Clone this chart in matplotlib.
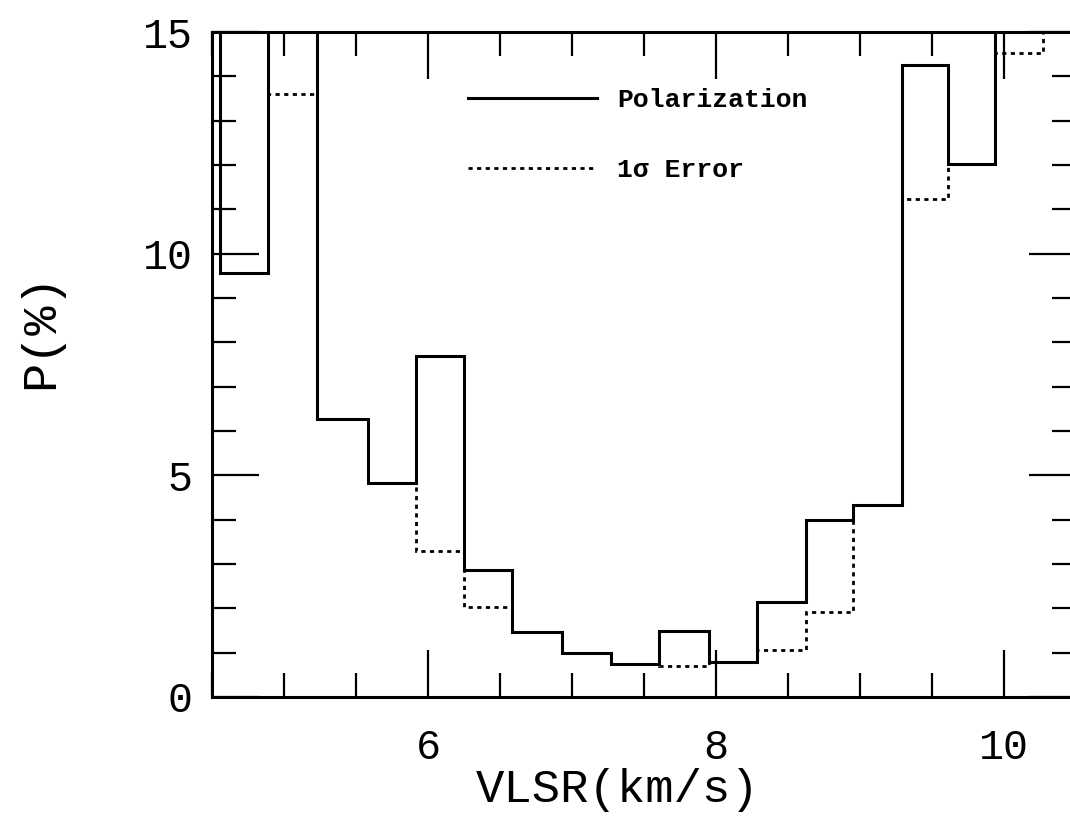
import matplotlib

matplotlib.use("Agg")
import matplotlib.pyplot as plt  # noqa: E402
from matplotlib.ticker import MultipleLocator  # noqa: E402

# velocity channel edges (km/s) and per-channel values (%)
v_edges = [4.22, 4.556, 4.889, 5.229, 5.583, 5.917, 6.250, 6.583, 6.931, 7.271,
           7.604, 7.951, 8.285, 8.625, 8.951, 9.292, 9.611, 9.938, 10.271, 10.61]
pol = [17.0, 9.56, 17.0, 6.27, 4.83, 7.69, 2.86, 1.47, 0.99, 0.74,
       1.49, 0.79, 2.14, 3.99, 4.33, 14.26, 12.02, 17.0, 17.0]
err = [16.0, 9.56, 13.6, 6.27, 4.83, 3.29, 2.03, 1.47, 0.99, 0.74,
       0.69, 0.79, 1.05, 1.92, 4.33, 11.23, 12.02, 14.53, 17.0]

FONT = "Liberation Mono"

fig = plt.figure(figsize=(10.7, 8.16), dpi=100)
ax = fig.add_axes([212 / 1070, 119 / 816, 864 / 1070, 665 / 816])

ax.stairs(err, v_edges, baseline=None, color="black", lw=2.0,
          linestyle=(0, (1.5, 1.6)), label="1σ Error")
ax.stairs(pol, v_edges, baseline=None, color="black", lw=2.2,
          label="Polarization")

ax.set_xlim(4.5, 10.5)
ax.set_ylim(0, 15)

ax.xaxis.set_major_locator(MultipleLocator(2))
ax.xaxis.set_minor_locator(MultipleLocator(0.5))
ax.yaxis.set_major_locator(MultipleLocator(5))
ax.yaxis.set_minor_locator(MultipleLocator(1))
ax.tick_params(which="both", direction="in", top=True, right=True, width=1.6)
ax.tick_params(which="major", length=34, labelsize=30, pad=14)
ax.tick_params(axis="x", which="major", pad=22)
ax.tick_params(which="minor", length=17)
for lab in ax.get_xticklabels() + ax.get_yticklabels():
    lab.set_family(FONT)
for sp in ax.spines.values():
    sp.set_linewidth(2.2)

ax.set_xlabel("VLSR(km/s)", fontsize=34, family=FONT)
ax.set_ylabel("P(%)", fontsize=35, family=FONT)
ax.xaxis.set_label_coords(0.47, -0.14)
ax.xaxis.label.set_va("center")
ax.yaxis.set_label_coords(-0.198, 0.55)
ax.yaxis.label.set_va("center")

handles, labels = ax.get_legend_handles_labels()
ax.legend(handles[::-1], labels[::-1], loc="upper left",
          bbox_to_anchor=(0.296, 0.916), frameon=False, handlelength=4.9,
          handletextpad=0.75, labelspacing=1.75, borderpad=0, borderaxespad=0,
          prop={"family": FONT, "weight": "bold", "size": 19})

fig.savefig("out.png", dpi=100)
